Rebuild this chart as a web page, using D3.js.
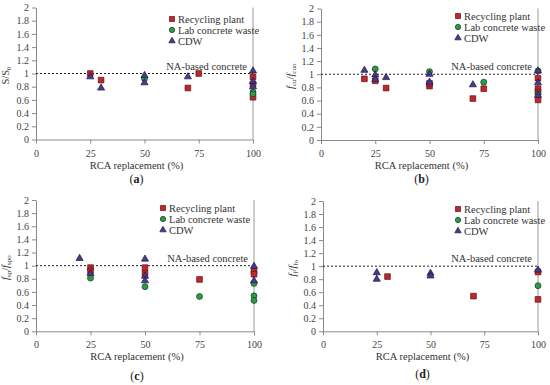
<!DOCTYPE html>
<html>
<head>
<meta charset="utf-8">
<script src="https://cdn.jsdelivr.net/npm/d3@7"></script>
<style>
  html, body { margin: 0; padding: 0; background: #fff; }
  svg { display: block; }
  svg text { font-family: 'Liberation Serif', 'DejaVu Serif', serif; }
</style>
</head>
<body>
<svg id="chart" width="550" height="385"></svg>
<script>
// ---- data ----
const xTicks = [0, 25, 50, 75, 100];
const yTicks = [0, 0.2, 0.4, 0.6, 0.8, 1, 1.2, 1.4, 1.6, 1.8, 2];
const seriesNames = ['Recycling plant', 'Lab concrete waste', 'CDW'];
const refLabel = 'NA-based concrete';
const xTitle = 'RCA replacement (%)';

// (a) S/S0
const aRecycling = [[25, 1.0], [30, 0.9], [70, 0.78], [75, 1.0], [100, 0.95], [100, 0.84], [100, 0.64]];
const aLab       = [[50, 0.92], [100, 0.72], [100, 0.69]];
const aCdw       = [[25, 0.95], [30, 0.78], [50, 0.97], [50, 0.86], [70, 0.95], [100, 1.04], [100, 0.88], [100, 0.80]];

// (b) fcu/fcuo
const bRecycling = [[20, 0.93], [25, 0.90], [30, 0.79], [50, 0.82], [50, 0.86], [70, 0.63], [75, 0.78], [100, 0.94], [100, 0.78], [100, 0.73], [100, 0.61]];
const bLab       = [[25, 1.08], [50, 1.04], [75, 0.88], [100, 1.05], [100, 0.70]];
const bCdw       = [[20, 1.06], [25, 0.99], [25, 0.92], [30, 0.95], [50, 1.0], [50, 0.88], [70, 0.84], [100, 1.05], [100, 0.87], [100, 0.68]];

// (c) fsp/fspo
const cRecycling = [[25, 0.97], [25, 0.92], [50, 0.97], [50, 0.88], [75, 0.79], [100, 0.91], [100, 0.87]];
const cLab       = [[25, 0.81], [50, 0.68], [75, 0.53], [100, 0.73], [100, 0.54], [100, 0.47]];
const cCdw       = [[20, 1.11], [25, 0.88], [50, 1.10], [50, 0.84], [50, 0.77], [100, 0.99], [100, 0.77]];

// (d) ff/ffo
const dRecycling = [[30, 0.84], [70, 0.54], [100, 0.91], [100, 0.49]];
const dLab       = [[100, 0.70]];
const dCdw       = [[25, 0.90], [25, 0.80], [50, 0.89], [50, 0.85], [100, 0.94]];

// ---- styles ----
const colors  = ['#c0262c', '#2e9a48', '#4a3a8c'];
const strokes = ['#5b1014', '#123d1e', '#1d1642'];
const symbols = [d3.symbolSquare, d3.symbolCircle, d3.symbolTriangle];
const sizes   = [32, 28, 22];

const panels = [
  { id: 'a', series: [aRecycling, aLab, aCdw], left: 36,  right: 253, top: 7.5, bottom: 139.5,
    ylab: [['S/S', 'normal'], ['0', 'sub']], legend: [172, 19], tag: 183 },
  { id: 'b', series: [bRecycling, bLab, bCdw], left: 321, right: 538, top: 8.5, bottom: 140,
    ylab: [['f', 'it'], ['cu', 'sub'], ['/', 'normal'], ['f', 'it'], ['cuo', 'sub']], legend: [458, 16], tag: 183 },
  { id: 'c', series: [cRecycling, cLab, cCdw], left: 36,  right: 254, top: 200, bottom: 331.3,
    ylab: [['f', 'it'], ['sp', 'sub'], ['/', 'normal'], ['f', 'it'], ['spo', 'sub']], legend: [163, 208], tag: 380 },
  { id: 'd', series: [dRecycling, dLab, dCdw], left: 323, right: 538, top: 201, bottom: 331.3,
    ylab: [['f', 'it'], ['f', 'sub'], ['/', 'normal'], ['f', 'it'], ['fo', 'sub']], legend: [458, 209], tag: 378 }
];

const svg = d3.select('#chart');

panels.forEach(p => {
  const x = d3.scaleLinear().domain([0, 100]).range([p.left, p.right]);
  const y = d3.scaleLinear().domain([0, 2]).range([p.bottom, p.top]);
  const g = svg.append('g');

  // right border line at x = 100
  g.append('line')
    .attr('x1', x(100)).attr('x2', x(100))
    .attr('y1', y(0)).attr('y2', y(2))
    .attr('stroke', '#9a9a9a').attr('stroke-width', 1);

  // axes
  g.append('g')
    .attr('transform', `translate(0,${p.bottom})`)
    .call(d3.axisBottom(x).tickValues(xTicks).tickSize(4).tickSizeOuter(0).tickPadding(6))
    .call(a => a.attr('font-family', null))
    .call(a => a.selectAll('path,line').attr('stroke', '#8a8a8a'))
    .call(a => a.selectAll('text').attr('fill', '#444').attr('font-size', 10));

  g.append('g')
    .attr('transform', `translate(${p.left},0)`)
    .call(d3.axisLeft(y).tickValues(yTicks).tickFormat(d => d3.format('~g')(d)).tickSize(4).tickSizeOuter(0).tickPadding(3))
    .call(a => a.attr('font-family', null))
    .call(a => a.selectAll('path,line').attr('stroke', '#8a8a8a'))
    .call(a => a.selectAll('text').attr('fill', '#444').attr('font-size', 10));

  // reference line
  g.append('line')
    .attr('x1', x(0)).attr('x2', x(100))
    .attr('y1', y(1)).attr('y2', y(1))
    .attr('stroke', '#222').attr('stroke-width', 1)
    .attr('stroke-dasharray', '2,2');
  g.append('text')
    .attr('x', x(100) - 6).attr('y', y(1) - 4)
    .attr('text-anchor', 'end').attr('font-size', 10.5).attr('fill', '#333')
    .text(refLabel);

  // points
  p.series.forEach((pts, i) => {
    g.append('g').selectAll('path')
      .data(pts)
      .join('path')
      .attr('transform', d => `translate(${x(d[0])},${y(d[1])})`)
      .attr('d', d3.symbol().type(symbols[i]).size(sizes[i]))
      .attr('fill', colors[i])
      .attr('stroke', strokes[i]).attr('stroke-width', 0.7);
  });

  // legend
  const lg = g.append('g').attr('transform', `translate(${p.legend[0]},${p.legend[1]})`);
  seriesNames.forEach((name, i) => {
    const row = lg.append('g').attr('transform', `translate(0,${i * 11})`);
    row.append('path')
      .attr('d', d3.symbol().type(symbols[i]).size(sizes[i] * 0.8))
      .attr('fill', colors[i]).attr('stroke', strokes[i]).attr('stroke-width', 0.7);
    row.append('text')
      .attr('x', 6).attr('y', 3.5)
      .attr('font-size', 10.5).attr('fill', '#333')
      .text(name);
  });

  // axis titles
  g.append('text')
    .attr('x', (p.left + p.right) / 2 - 8).attr('y', p.bottom + 29)
    .attr('text-anchor', 'middle').attr('font-size', 10.5).attr('fill', '#333')
    .text(xTitle);

  const yl = g.append('text')
    .attr('transform', `translate(${p.left - 27},${y(1) + 2}) rotate(-90)`)
    .attr('text-anchor', 'middle').attr('font-size', 10.5).attr('fill', '#333');
  p.ylab.forEach(([t, kind], k) => {
    const ts = yl.append('tspan').text(t);
    if (kind === 'it') ts.attr('font-style', 'italic');
    if (kind === 'sub') ts.attr('font-size', 7).attr('dy', 2);
    else if (k > 0 && p.ylab[k - 1][1] === 'sub') ts.attr('dy', -2);
  });

  // panel tag
  const tg = g.append('text')
    .attr('x', (p.left + p.right) / 2 - 8).attr('y', p.tag)
    .attr('text-anchor', 'middle').attr('font-size', 12).attr('fill', '#222');
  tg.append('tspan').text('(');
  tg.append('tspan').attr('font-weight', 'bold').text(p.id);
  tg.append('tspan').text(')');
});
</script>
</body>
</html>
